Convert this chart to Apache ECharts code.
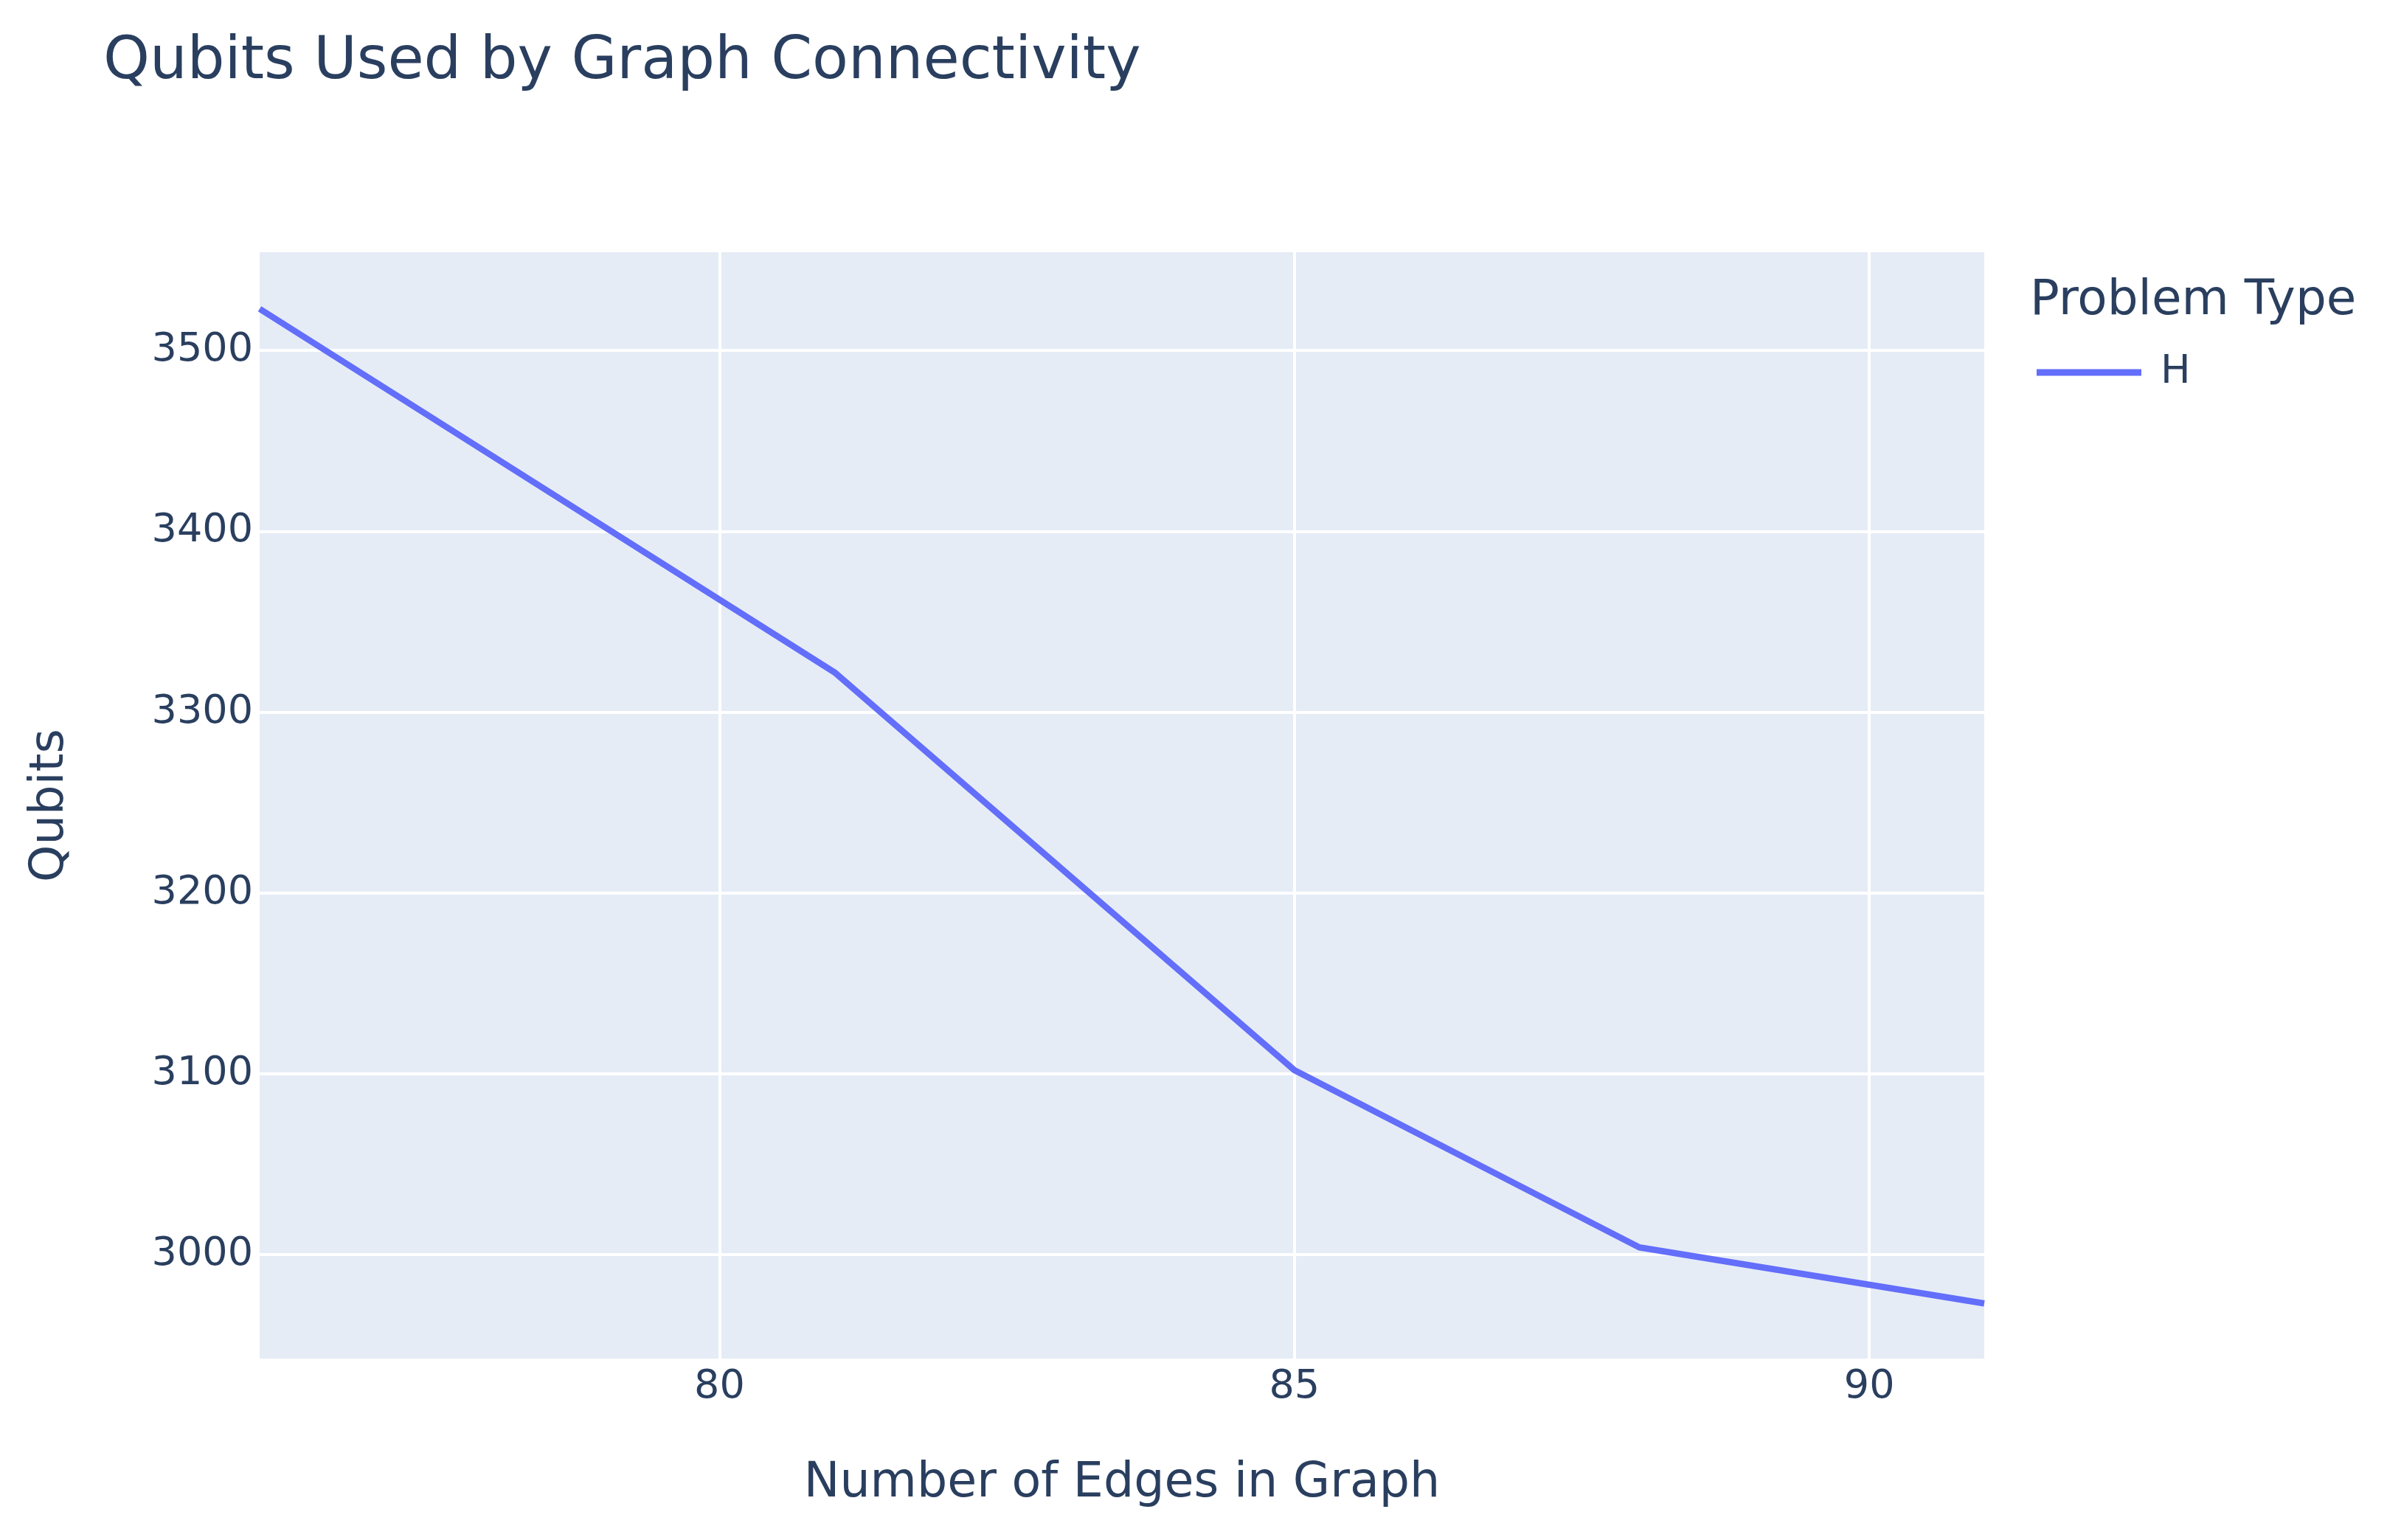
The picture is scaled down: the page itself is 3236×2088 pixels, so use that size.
<!DOCTYPE html>
<html>
<head>
<meta charset="utf-8" />
<title>Qubits Used by Graph Connectivity</title>
<script src="https://cdn.jsdelivr.net/npm/echarts@6/dist/echarts.min.js"></script>
<style>
  html,
  body {
    margin: 0;
    padding: 0;
    background: #fff;
  }
  #container {
    width: 3236px;
    height: 2088px;
  }
</style>
</head>
<body>
<div id="container"></div>
<script>
var seriesName = "H";
var edges = [76, 81, 85, 88, 91];
var qubits = [3523, 3322, 3102, 3004, 2973];
var xTicks = [80, 85, 90];
var yTicks = [3000, 3100, 3200, 3300, 3400, 3500];

var textColor = "#2a3f5f";
var fontName = "DejaVu Sans";

var dom = document.getElementById("container");
var myChart = echarts.init(dom, null, { renderer: "canvas" });

var option = {
  backgroundColor: "#fff",
  animation: false,
  textStyle: { fontFamily: fontName, color: textColor },
  title: [
    {
      text: "Qubits Used by Graph Connectivity",
      left: 140,
      top: 45,
      padding: 0,
      textStyle: {
        fontFamily: fontName,
        fontSize: 80,
        fontWeight: "normal",
        color: textColor,
      },
    },
    {
      // legend title
      text: "Problem Type",
      left: 2752,
      top: 376,
      padding: 0,
      textStyle: {
        fontFamily: fontName,
        fontSize: 66,
        fontWeight: "normal",
        color: textColor,
      },
    },
  ],
  legend: {
    data: [seriesName],
    left: 2761,
    top: 475,
    padding: 0,
    icon: "rect",
    itemWidth: 142,
    itemHeight: 9,
    textStyle: {
      fontFamily: fontName,
      fontSize: 54,
      lineHeight: 60,
      color: textColor,
      padding: [0, 0, 0, 21],
    },
  },
  grid: {
    left: 352,
    right: 546,
    top: 342,
    bottom: 246,
    show: true,
    backgroundColor: "#E5ECF6",
    borderWidth: 0,
  },
  xAxis: {
    type: "value",
    min: 76,
    max: 91,
    splitNumber: 3,
    name: "Number of Edges in Graph",
    nameLocation: "middle",
    nameGap: 138,
    nameTextStyle: { fontFamily: fontName, fontSize: 65, color: textColor },
    axisLine: { show: false },
    axisTick: { show: false },
    axisLabel: {
      margin: 12,
      fontFamily: fontName,
      fontSize: 54,
      color: textColor,
      showMinLabel: false,
      showMaxLabel: false,
      formatter: function (v) {
        return xTicks.indexOf(v) >= 0 ? String(v) : "";
      },
    },
    splitLine: {
      show: true,
      showMinLine: false,
      showMaxLine: false,
      lineStyle: { color: "#ffffff", width: 4 },
    },
  },
  yAxis: {
    type: "value",
    min: 2942.5,
    max: 3554.3,
    splitNumber: 6,
    name: "Qubits",
    nameLocation: "middle",
    nameGap: 252,
    nameTextStyle: { fontFamily: fontName, fontSize: 64, color: textColor },
    axisLine: { show: false },
    axisTick: { show: false },
    axisLabel: {
      margin: 9,
      fontFamily: fontName,
      fontSize: 54,
      color: textColor,
      showMinLabel: false,
      showMaxLabel: false,
      formatter: function (v) {
        return yTicks.indexOf(v) >= 0 ? String(v) : "";
      },
    },
    splitLine: {
      show: true,
      showMinLine: false,
      showMaxLine: false,
      lineStyle: { color: "#ffffff", width: 4 },
    },
  },
  series: [
    {
      name: seriesName,
      type: "line",
      showSymbol: false,
      symbol: "none",
      data: edges.map(function (x, i) {
        return [x, qubits[i]];
      }),
      lineStyle: { color: "#636efa", width: 8.5 },
      itemStyle: { color: "#636efa" },
    },
  ],
};

myChart.setOption(option);
</script>
</body>
</html>
